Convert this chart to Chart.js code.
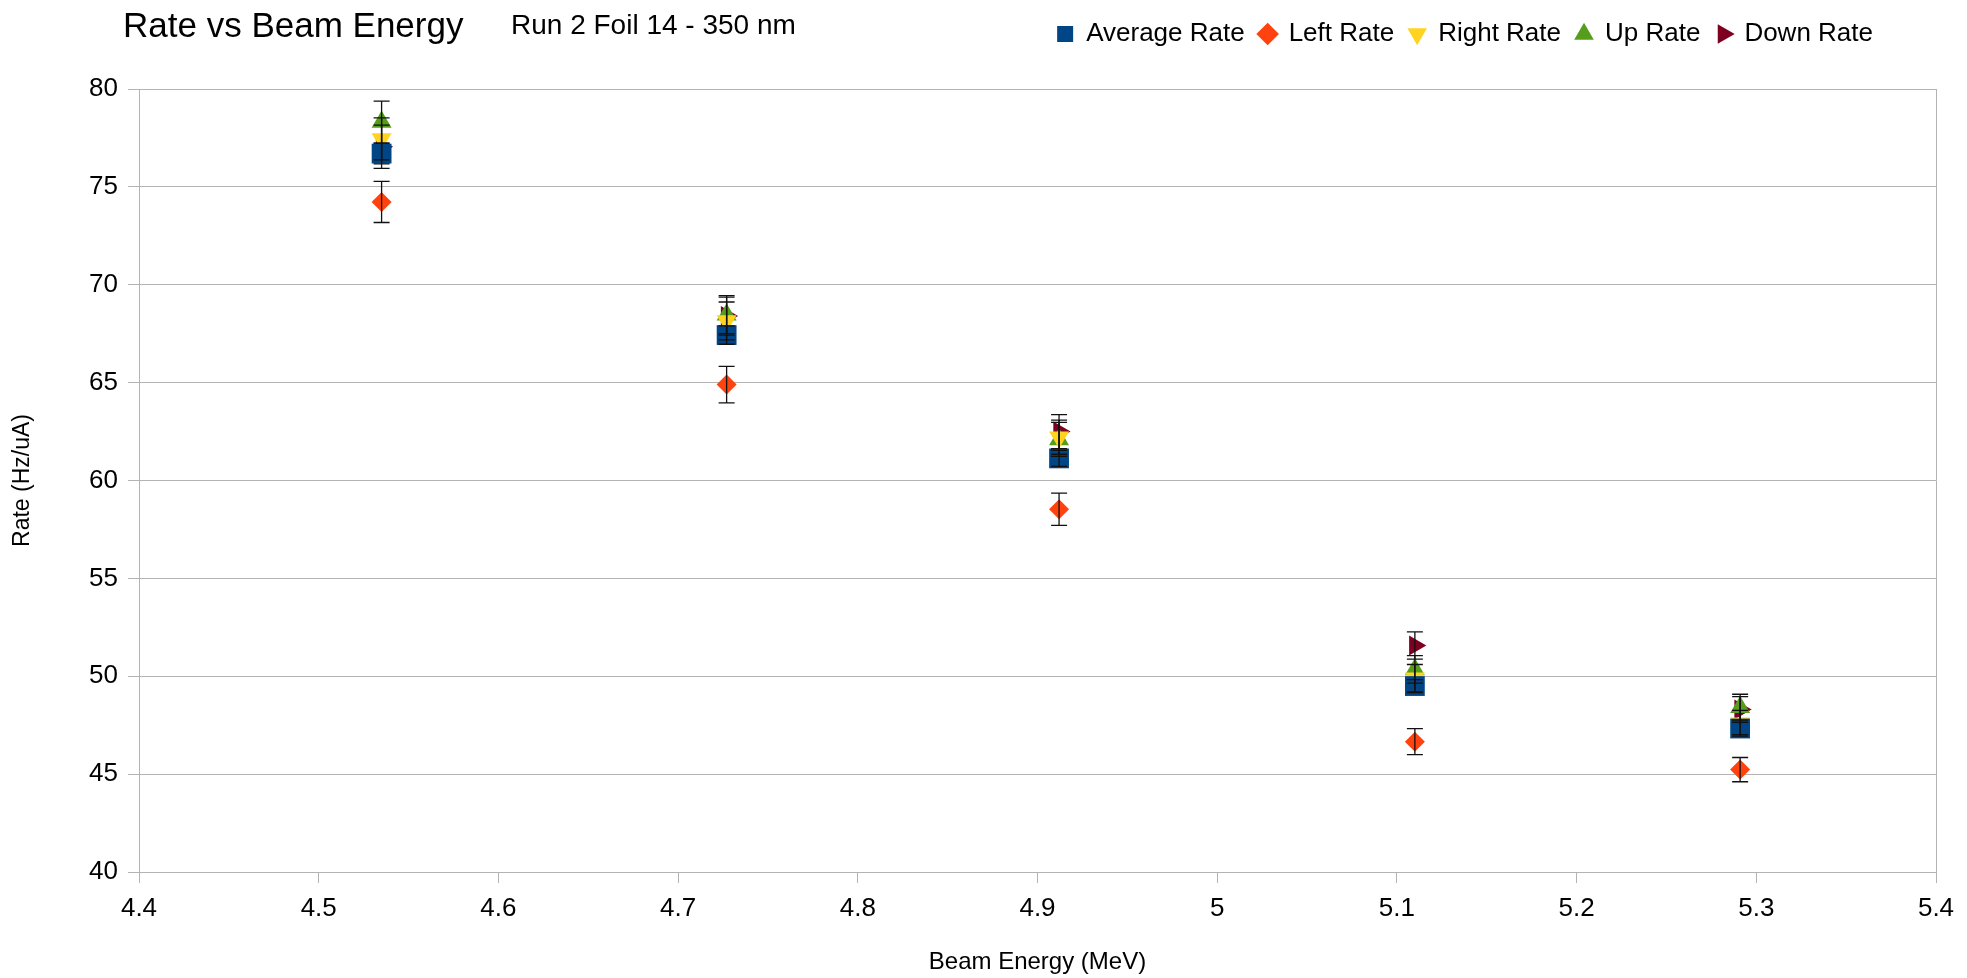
<!DOCTYPE html>
<html>
<head>
<meta charset="utf-8">
<title>Rate vs Beam Energy</title>
<script src="https://cdn.jsdelivr.net/npm/chart.js@4.4.1/dist/chart.umd.min.js"></script>
<style>
    body { margin: 0; background: #fff; }
    #marco { position: relative; width: 1967px; height: 978px; }
    .rotulo {
        position: absolute;
        font-family: "Liberation Sans", Arial, sans-serif;
        color: #000;
        line-height: 1;
        white-space: nowrap;
    }
    #titulo { left: 123px; top: 7px; font-size: 35px; }
    #subtitulo { left: 511px; top: 11px; font-size: 28px; }
</style>
</head>
<body>
<div id="marco">
    <canvas id="rateChart" width="1967" height="978"></canvas>
    <div id="titulo" class="rotulo">Rate vs Beam Energy</div>
    <div id="subtitulo" class="rotulo">Run 2 Foil 14 - 350 nm</div>
</div>
<script>
const energia = [4.535, 4.727, 4.912, 5.11, 5.291];

const averageRate = [76.7, 67.43, 61.13, 49.5, 47.33];
const leftRate = [74.23, 64.9, 58.53, 46.66, 45.23];
const rightRate = [77.45, 68.15, 62.21, 49.9, 47.6];
const upRate = [78.31, 68.47, 62.1, 50.35, 48.42];
const downRate = [77.05, 68.4, 62.5, 51.57, 48.3];

const averageErr = [0.53, 0.47, 0.41, 0.33, 0.31];
const leftErr = [1.05, 0.93, 0.82, 0.66, 0.62];
const rightErr = [1.07, 0.97, 0.87, 0.7, 0.66];
const upErr = [1.07, 0.97, 0.87, 0.7, 0.66];
const downErr = [1.1, 0.97, 0.87, 0.7, 0.66];

const fuente = "'Liberation Sans', Arial, sans-serif";
const colorGrilla = "#b3b3b3";

const puntos = (valores) => valores.map((v, i) => ({ x: energia[i], y: v }));

// barras de error verticales encima de los marcadores
const barrasError = {
    id: "barrasError",
    afterDatasetsDraw(chart) {
        const ctx = chart.ctx;
        const escalaY = chart.scales.y;
        ctx.save();
        ctx.strokeStyle = "#111";
        ctx.lineWidth = 1.3;
        chart.data.datasets.forEach((ds, i) => {
            if (!chart.isDatasetVisible(i)) return;
            chart.getDatasetMeta(i).data.forEach((pt, j) => {
                const v = ds.data[j].y;
                const e = ds.errores[j];
                const arriba = escalaY.getPixelForValue(v + e);
                const abajo = escalaY.getPixelForValue(v - e);
                ctx.beginPath();
                ctx.moveTo(pt.x, arriba);
                ctx.lineTo(pt.x, abajo);
                ctx.moveTo(pt.x - 8, arriba);
                ctx.lineTo(pt.x + 8, arriba);
                ctx.moveTo(pt.x - 8, abajo);
                ctx.lineTo(pt.x + 8, abajo);
                ctx.stroke();
            });
        });
        ctx.restore();
    },
};

// espacio bajo la leyenda y corrimiento a la izquierda
const espacioLeyenda = {
    id: "espacioLeyenda",
    beforeInit(chart) {
        const fitOriginal = chart.legend.fit;
        chart.legend.fit = function () {
            fitOriginal.call(this);
            this.height += 32;
            if (this.lineWidths && this.lineWidths.length) this.lineWidths[0] += 48;
        };
    },
};

new Chart(document.getElementById("rateChart"), {
    type: "scatter",
    data: {
        datasets: [
            {
                label: "Average Rate",
                data: puntos(averageRate),
                errores: averageErr,
                pointStyle: "rect",
                pointRadius: 14,
                pointHoverRadius: 14,
                backgroundColor: "#004586",
                borderColor: "#004586",
                borderWidth: 0,
            },
            {
                label: "Left Rate",
                data: puntos(leftRate),
                errores: leftErr,
                pointStyle: "rectRot",
                pointRadius: 10,
                pointHoverRadius: 10,
                backgroundColor: "#ff420e",
                borderColor: "#ff420e",
                borderWidth: 0,
            },
            {
                label: "Right Rate",
                data: puntos(rightRate),
                errores: rightErr,
                pointStyle: "triangle",
                rotation: 180,
                pointRadius: 11.5,
                pointHoverRadius: 11.5,
                backgroundColor: "#ffd320",
                borderColor: "#ffd320",
                borderWidth: 0,
            },
            {
                label: "Up Rate",
                data: puntos(upRate),
                errores: upErr,
                pointStyle: "triangle",
                pointRadius: 11.5,
                pointHoverRadius: 11.5,
                backgroundColor: "#579d1c",
                borderColor: "#579d1c",
                borderWidth: 0,
            },
            {
                label: "Down Rate",
                data: puntos(downRate),
                errores: downErr,
                pointStyle: "triangle",
                rotation: 90,
                pointRadius: 11.5,
                pointHoverRadius: 11.5,
                backgroundColor: "#7e0021",
                borderColor: "#7e0021",
                borderWidth: 0,
            },
        ],
    },
    options: {
        responsive: false,
        animation: false,
        devicePixelRatio: 1,
        layout: { padding: { top: 6, right: 31, bottom: 0, left: 0 } },
        scales: {
            x: {
                type: "linear",
                min: 4.4,
                max: 5.4,
                grid: {
                    drawOnChartArea: true,
                    color: (c) => (c.tick && c.tick.value >= 5.39 ? colorGrilla : "transparent"),
                    tickColor: colorGrilla,
                    tickLength: 11,
                },
                border: { color: colorGrilla },
                ticks: {
                    stepSize: 0.1,
                    padding: 10,
                    color: "#000",
                    font: { family: fuente, size: 26 },
                    callback: (v) => Number(v.toFixed(1)).toString(),
                },
                title: {
                    display: true,
                    text: "Beam Energy (MeV)",
                    color: "#000",
                    font: { family: fuente, size: 24 },
                    padding: { top: 0, bottom: 1 },
                },
                afterFit(scale) {
                    scale.height = 106;
                },
            },
            y: {
                min: 40,
                max: 80,
                grid: { color: colorGrilla, tickLength: 11 },
                border: { color: colorGrilla },
                ticks: {
                    stepSize: 5,
                    padding: 10,
                    color: "#000",
                    font: { family: fuente, size: 26 },
                },
                title: {
                    display: true,
                    text: "Rate (Hz/uA)",
                    color: "#000",
                    font: { family: fuente, size: 23 },
                    padding: { top: 9, bottom: 0 },
                },
                afterFit(scale) {
                    scale.width = 139;
                },
            },
        },
        plugins: {
            legend: {
                position: "top",
                align: "end",
                labels: {
                    usePointStyle: true,
                    boxWidth: 16,
                    boxHeight: 16,
                    padding: 15,
                    color: "#000",
                    font: { family: fuente, size: 26 },
                },
            },
            tooltip: {
                callbacks: {
                    label: function (context) {
                        const e = context.dataset.errores[context.dataIndex];
                        return `${context.dataset.label}: ${context.raw.y} ± ${e} Hz/uA @ ${context.raw.x} MeV`;
                    },
                },
            },
        },
    },
    plugins: [barrasError, espacioLeyenda],
});
</script>
</body>
</html>
